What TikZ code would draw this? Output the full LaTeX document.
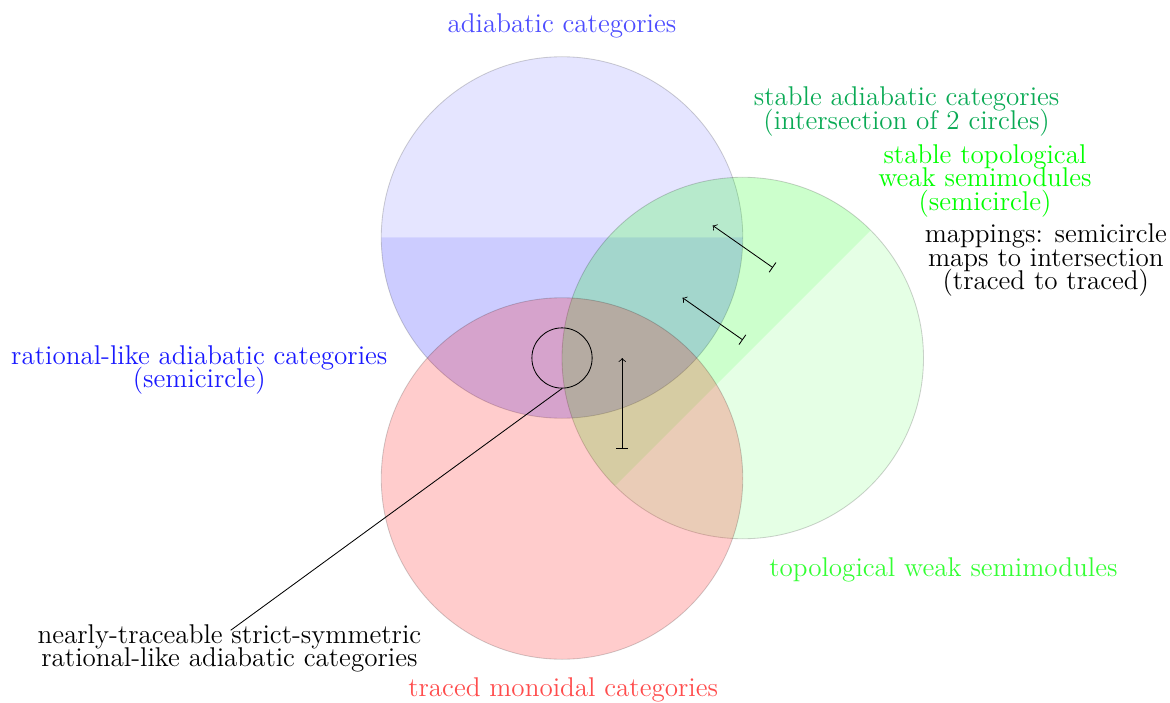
\documentclass[tikz,border=0pt]{standalone}
\usepackage{tikz}
\definecolor{stablegreen}{RGB}{10,170,85}
\begin{document}
\begin{tikzpicture}[
  lbl/.style={inner sep=0pt, align=center,
    font={\fontsize{12.8}{11.1}\selectfont\lineskiplimit=-20pt}},
  rim/.style={draw=black, draw opacity=0.18},
  mapsarrow/.style={|->, black}
]
\useasboundingbox (-9.328,-5.710) rectangle (10.091,5.942);

% circle centres
\coordinate (bc) at (0,2);
\coordinate (gc) at (3,0);
\coordinate (rc) at (0,-2);

% adiabatic categories: upper and lower halves
\fill[blue, fill opacity=0.1] ([shift={(0:3)}]bc) arc[start angle=0, end angle=180, radius=3] -- cycle;
\fill[blue, fill opacity=0.2] ([shift={(180:3)}]bc) arc[start angle=180, end angle=360, radius=3] -- cycle;
\draw[rim] (bc) circle[radius=3];

% topological weak semimodules: halves split along the diagonal
\fill[green, fill opacity=0.2] ([shift={(45:3)}]gc) arc[start angle=45, end angle=225, radius=3] -- cycle;
\fill[green, fill opacity=0.1] ([shift={(225:3)}]gc) arc[start angle=225, end angle=405, radius=3] -- cycle;
\draw[rim] (gc) circle[radius=3];

% traced monoidal categories
\fill[red, fill opacity=0.2] (rc) circle[radius=3];
\draw[rim] (rc) circle[radius=3];

% small highlighted region
\node[draw, circle, minimum size=1cm, inner sep=0pt] (spot) at (0,0) {};

% maps-to arrows
\coordinate (a1s) at (3.5,1.5);  \coordinate (a1e) at (2.5,2.2);
\coordinate (a2s) at (3,0.3);    \coordinate (a2e) at (2,1);
\coordinate (a3s) at (1,-1.5);   \coordinate (a3e) at (1,0);
\draw[mapsarrow] (a1s) -- (a1e);
\draw[mapsarrow] (a2s) -- (a2e);
\draw[mapsarrow] (a3s) -- (a3e);

% labels
\node[lbl, anchor=base, text=blue!70] (adiab) at (0,5.41) {adiabatic categories};
\node[lbl, text=stablegreen] (stadiab) at (5.72,4.09) {stable adiabatic categories\\(intersection of 2 circles)};
\node[lbl, text=green] (sttop) at (7.02,2.94) {stable topological\\weak semimodules\\(semicircle)};
\node[lbl] (maps) at (8.03,1.62) {mappings: semicircle\\maps to intersection\\(traced to traced)};
\node[lbl, text=blue!90] (ratl) at (-6.02,-0.2) {rational-like adiabatic categories\\(semicircle)};
\node[lbl, anchor=base, text=green!80] (topw) at (6.33,-3.63) {topological weak semimodules};
\node[lbl, anchor=base, text=red!70] (traced) at (0.02,-5.62) {traced monoidal categories};
\node[lbl] (nearly) at (-5.52,-4.82) {nearly-traceable strict-symmetric\\rational-like adiabatic categories};

% pointer from the small region to its label
\coordinate (nearlytip) at (-5.5,-4.52);
\draw (spot.south) -- (nearlytip);
\end{tikzpicture}
\end{document}
